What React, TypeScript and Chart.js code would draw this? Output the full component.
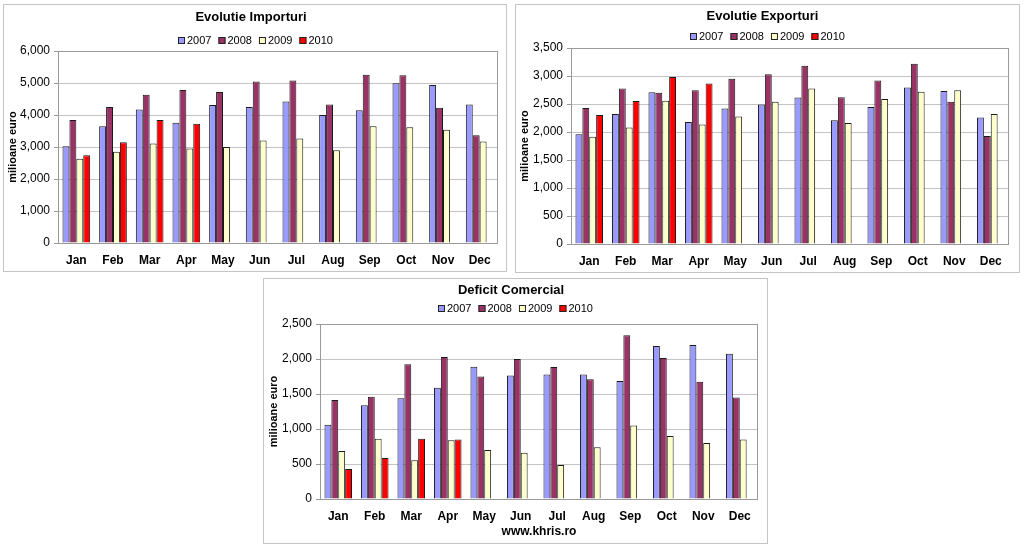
import { useEffect, useRef } from "react"
import { Chart, registerables } from "chart.js"

Chart.register(...registerables)

const FONT = "'Liberation Sans', Arial, sans-serif"

const months = ["Jan", "Feb", "Mar", "Apr", "May", "Jun", "Jul", "Aug", "Sep", "Oct", "Nov", "Dec"]
const years = ["2007", "2008", "2009", "2010"]
const yearColors = ["#9999FF", "#993366", "#FFFFCC", "#FF0000"]

const imports2007 = [3020, 3650, 4175, 3760, 4310, 4250, 4425, 4000, 4145, 4990, 4940, 4330]
const imports2008 = [3840, 4250, 4635, 4780, 4720, 5050, 5075, 4330, 5260, 5240, 4230, 3370]
const imports2009 = [2630, 2850, 3110, 2955, 3000, 3205, 3265, 2900, 3645, 3620, 3540, 3175]
const imports2010 = [2745, 3150, 3840, 3725, null, null, null, null, null, null, null, null]

const exports2007 = [1960, 2320, 2710, 2180, 2420, 2490, 2615, 2210, 2445, 2795, 2730, 2260]
const exports2008 = [2430, 2775, 2700, 2745, 2950, 3030, 3185, 2620, 2920, 3220, 2540, 1930]
const exports2009 = [1915, 2080, 2560, 2135, 2275, 2540, 2775, 2160, 2590, 2720, 2745, 2320]
const exports2010 = [2305, 2555, 2980, 2865, null, null, null, null, null, null, null, null]

const deficit2007 = [1060, 1340, 1440, 1590, 1890, 1765, 1780, 1780, 1685, 2185, 2200, 2075]
const deficit2008 = [1415, 1460, 1925, 2030, 1750, 2000, 1885, 1710, 2340, 2015, 1675, 1450]
const deficit2009 = [685, 860, 555, 840, 700, 660, 485, 740, 1050, 900, 800, 850]
const deficit2010 = [430, 585, 860, 850, null, null, null, null, null, null, null, null]

// small square legend like the old Excel one, drawn in the space the title leaves free
const xlLegend = {
  id: "xlLegend",
  afterDraw(chart: Chart, _args: unknown, opts: { y: number }) {
    const ctx = chart.ctx
    ctx.save()
    ctx.font = `11px ${FONT}`
    const box = 7
    const items = chart.data.datasets.map((ds) => ({
      text: String(ds.label),
      color: ds.backgroundColor as string,
      w: box + 2 + ctx.measureText(String(ds.label)).width,
    }))
    const gap = 7
    const total = items.reduce((s, it) => s + it.w, 0) + gap * (items.length - 1)
    let x = Math.round(chart.width / 2 - total / 2)
    const y = opts.y
    for (const it of items) {
      ctx.fillStyle = it.color
      ctx.fillRect(x, Math.round(y - box / 2), box, box)
      ctx.strokeStyle = "#222"
      ctx.lineWidth = 1
      ctx.strokeRect(x + 0.5, Math.round(y - box / 2) + 0.5, box - 1, box - 1)
      ctx.fillStyle = "#000"
      ctx.textBaseline = "middle"
      ctx.textAlign = "left"
      ctx.fillText(it.text, x + box + 2, y + 0.5)
      x += it.w + gap
    }
    ctx.restore()
  },
}

const plotFrame = {
  id: "plotFrame",
  beforeDatasetsDraw(chart: Chart) {
    const { ctx, chartArea } = chart
    ctx.save()
    ctx.strokeStyle = "#9A9A9A"
    ctx.lineWidth = 1
    ctx.strokeRect(
      Math.round(chartArea.left) + 0.5,
      Math.round(chartArea.top) + 0.5,
      Math.round(chartArea.width) - 1,
      Math.round(chartArea.height)
    )
    ctx.restore()
  },
}

interface PanelProps {
  title: string
  series: (number | null)[][]
  yMax: number
  yStep: number
  left: number
  top: number
  width: number
  height: number
  yWidth: number
  rightPad: number
  xHeight: number
  titleTop: number
  titleBottom: number
  legendY: number
  yTitlePad: number
  xTitle?: string
}

function BarPanel(p: PanelProps) {
  const canvasRef = useRef<HTMLCanvasElement>(null)

  useEffect(() => {
    if (!canvasRef.current) return
    const chart = new Chart(canvasRef.current, {
      type: "bar",
      data: {
        labels: months,
        datasets: p.series.map((values, i) => ({
          label: years[i],
          data: values,
          backgroundColor: yearColors[i],
          borderColor: "#1a1a1a",
          borderWidth: 1,
          categoryPercentage: 0.755,
          barPercentage: 1,
        })),
      },
      options: {
        responsive: false,
        animation: false,
        layout: { padding: { left: 0, right: p.rightPad, top: 0, bottom: 0 } },
        plugins: {
          legend: { display: false },
          tooltip: { enabled: false },
          title: {
            display: true,
            text: p.title,
            color: "#000",
            font: { family: FONT, size: 13, weight: "bold" },
            padding: { top: p.titleTop, bottom: p.titleBottom },
          },
          xlLegend: { y: p.legendY },
        } as any,
        scales: {
          x: {
            grid: { display: false, drawTicks: false, tickLength: 0 },
            border: { display: false },
            ticks: {
              color: "#000",
              font: { family: FONT, size: 12, weight: "bold" },
              padding: 10,
              maxRotation: 0,
            },
            title: p.xTitle
              ? {
                  display: true,
                  text: p.xTitle,
                  color: "#000",
                  font: { family: FONT, size: 12, weight: "bold" },
                  padding: { top: 0, bottom: 4 },
                }
              : { display: false },
            afterFit: (s: any) => {
              s.height = p.xHeight
            },
          },
          y: {
            min: 0,
            max: p.yMax,
            grid: { color: "#C4C4C4", tickColor: "#9A9A9A", tickLength: 4 },
            border: { display: false },
            ticks: {
              stepSize: p.yStep,
              color: "#000",
              font: { family: FONT, size: 12 },
              padding: 4,
              callback: (v: any) => Number(v).toLocaleString("en-US"),
            },
            title: {
              display: true,
              text: "milioane euro",
              color: "#000",
              font: { family: FONT, size: 11, weight: "bold" },
              padding: { top: p.yTitlePad, bottom: 0 },
            },
            afterFit: (s: any) => {
              s.width = p.yWidth
            },
          },
        },
      },
      plugins: [xlLegend, plotFrame],
    })
    return () => chart.destroy()
  }, [])

  return (
    <div
      style={{
        position: "absolute",
        left: p.left,
        top: p.top,
        width: p.width,
        height: p.height,
        boxSizing: "border-box",
        border: "1px solid #C4C4C4",
        background: "#fff",
      }}
    >
      <canvas
        ref={canvasRef}
        width={p.width - 2}
        height={p.height - 2}
        style={{ display: "block", width: p.width - 2, height: p.height - 2 }}
      />
    </div>
  )
}

export default function App() {
  return (
    <div style={{ position: "absolute", left: 0, top: 0, width: 1024, height: 547, background: "#fff" }}>
      <BarPanel
        title="Evolutie Importuri"
        series={[imports2007, imports2008, imports2009, imports2010]}
        yMax={6000}
        yStep={1000}
        left={3}
        top={4}
        width={504}
        height={268}
        yWidth={54}
        rightPad={8}
        xHeight={28}
        titleTop={4.2}
        titleBottom={26.2}
        legendY={35}
        yTitlePad={2.4}
      />
      <BarPanel
        title="Evolutie Exporturi"
        series={[exports2007, exports2008, exports2009, exports2010]}
        yMax={3500}
        yStep={500}
        left={515}
        top={4}
        width={505}
        height={269}
        yWidth={55}
        rightPad={10}
        xHeight={28}
        titleTop={3.9}
        titleBottom={23.5}
        legendY={31}
        yTitlePad={2.4}
      />
      <BarPanel
        title="Deficit Comercial"
        series={[deficit2007, deficit2008, deficit2009, deficit2010]}
        yMax={2500}
        yStep={500}
        left={263}
        top={278}
        width={505}
        height={266}
        yWidth={56}
        rightPad={9}
        xHeight={44}
        titleTop={3.5}
        titleBottom={25.9}
        legendY={29.3}
        yTitlePad={3.4}
        xTitle="www.khris.ro"
      />
    </div>
  )
}
